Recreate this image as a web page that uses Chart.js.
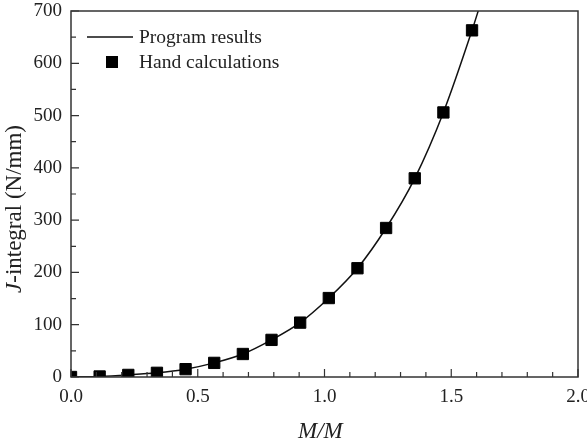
<!DOCTYPE html>
<html>
<head>
<meta charset="utf-8">
<script src="https://cdn.jsdelivr.net/npm/chart.js@4"></script>
<style>
    html, body { margin: 0; padding: 0; background: #fff; }
    #wrap { width: 587px; height: 438px; }
</style>
</head>
<body>
<div id="wrap"><canvas id="jChart" width="587" height="438"></canvas></div>
<script>
// Dữ liệu
const handX = [0, 0.113, 0.226, 0.339, 0.452, 0.565, 0.678, 0.791, 0.904, 1.017, 1.13, 1.243, 1.356, 1.469, 1.582];
const handJ = [0, 1, 4, 8, 15, 27, 44, 71, 104, 151, 208, 285, 380, 506, 663];
const progX = [0, 0.113, 0.226, 0.339, 0.452, 0.565, 0.678, 0.791, 0.904, 1.017, 1.13, 1.243, 1.356, 1.469, 1.582, 1.614];
const progJ = [0, 1, 4, 8, 15, 27, 44, 71, 104, 151, 208, 285, 380, 506, 663, 712];
const xTicks = [0, 0.5, 1.0, 1.5, 2.0];
const yTicks = [0, 100, 200, 300, 400, 500, 600, 700];

const serif = "'Liberation Serif', 'DejaVu Serif', serif";
const axisColor = '#333';

// ticks hướng vào trong + khung + tiêu đề trục + chú thích
const framePlugin = {
    id: 'frame',
    afterDraw(chart) {
        const ctx = chart.ctx;
        const a = chart.chartArea;
        const xs = chart.scales.x, ys = chart.scales.y;
        ctx.save();
        ctx.strokeStyle = axisColor;
        ctx.lineWidth = 1.5;
        ctx.strokeRect(a.left, a.top, a.right - a.left, a.bottom - a.top);
        ctx.lineWidth = 1.2;
        ctx.beginPath();
        xs.ticks.forEach(t => {
            const px = xs.getPixelForValue(t.value);
            const major = Math.abs(t.value * 2 - Math.round(t.value * 2)) < 1e-6;
            const len = major ? 8 : 5;
            ctx.moveTo(px, a.bottom);
            ctx.lineTo(px, a.bottom - len);
        });
        ys.ticks.forEach(t => {
            const py = ys.getPixelForValue(t.value);
            const major = t.value % 100 === 0;
            const len = major ? 8 : 5;
            ctx.moveTo(a.left, py);
            ctx.lineTo(a.left + len, py);
        });
        ctx.stroke();

        // tiêu đề trục y
        ctx.fillStyle = '#222';
        ctx.translate(21, 209);
        ctx.rotate(-Math.PI / 2);
        ctx.textBaseline = 'alphabetic';
        ctx.font = 'italic 23px ' + serif;
        const jw = ctx.measureText('J').width;
        ctx.font = '23px ' + serif;
        const rest = '-integral (N/mm)';
        const rw = ctx.measureText(rest).width;
        const start = -(jw + rw) / 2;
        ctx.font = 'italic 23px ' + serif;
        ctx.fillText('J', start, 0);
        ctx.font = '23px ' + serif;
        ctx.fillText(rest, start + jw, 0);
        ctx.setTransform(1, 0, 0, 1, 0, 0);

        // tiêu đề trục x (chỉ số dưới bị cắt)
        ctx.font = 'italic 23px ' + serif;
        ctx.fillText('M/M', 298, 438);
        const mw = ctx.measureText('M/M').width;
        ctx.font = 'italic 15px ' + serif;
        ctx.fillText('L', 298 + mw, 448);

        // chú thích
        ctx.strokeStyle = '#111';
        ctx.lineWidth = 1.5;
        ctx.beginPath();
        ctx.moveTo(87, 37);
        ctx.lineTo(133, 37);
        ctx.stroke();
        ctx.fillStyle = '#000';
        ctx.fillRect(106, 56, 12, 12);
        ctx.fillStyle = '#222';
        ctx.font = '19.5px ' + serif;
        ctx.textBaseline = 'middle';
        ctx.fillText('Program results', 139, 38);
        ctx.fillText('Hand calculations', 139, 63);
        ctx.restore();
    }
};

const ctx = document.getElementById('jChart');
new Chart(ctx, {
    type: 'scatter',
    data: {
        datasets: [
            {
                label: 'Program results',
                data: progX.map((x, i) => ({x: x, y: progJ[i]})),
                showLine: true,
                borderColor: '#111',
                borderWidth: 1.5,
                pointRadius: 0,
                cubicInterpolationMode: 'monotone',
                order: 2
            },
            {
                label: 'Hand calculations',
                data: handX.map((x, i) => ({x: x, y: handJ[i]})),
                showLine: false,
                pointStyle: 'rect',
                pointRadius: 8,
                backgroundColor: '#000',
                borderColor: '#000',
                borderWidth: 1,
                order: 1
            }
        ]
    },
    options: {
        responsive: false,
        animation: false,
        layout: {padding: {top: 11, right: 7, left: 0, bottom: 0}},
        plugins: {legend: {display: false}, tooltip: {enabled: false}},
        scales: {
            x: {
                type: 'linear',
                min: 0, max: 2,
                grid: {display: false, drawTicks: false},
                border: {display: false},
                afterBuildTicks: s => {
                    const t = [];
                    for (let i = 0; i <= 20; i++) t.push({value: i / 10});
                    s.ticks = t;
                },
                afterFit: s => { s.height = 61; s.paddingLeft = 0; s.paddingRight = 0; },
                ticks: {
                    autoSkip: false,
                    maxRotation: 0,
                    padding: 9,
                    color: '#222',
                    font: {family: serif, size: 19},
                    callback: v => xTicks.some(t => Math.abs(t - v) < 1e-6) ? v.toFixed(1) : ''
                }
            },
            y: {
                type: 'linear',
                min: 0, max: 700,
                grid: {display: false, drawTicks: false},
                border: {display: false},
                afterBuildTicks: s => {
                    const t = [];
                    for (let v = 0; v <= 700; v += 50) t.push({value: v});
                    s.ticks = t;
                },
                afterFit: s => { s.width = 71; s.paddingTop = 0; s.paddingBottom = 0; },
                ticks: {
                    autoSkip: false,
                    padding: 9,
                    color: '#222',
                    font: {family: serif, size: 19},
                    callback: v => yTicks.includes(v) ? String(v) : ''
                }
            }
        }
    },
    plugins: [framePlugin]
});
</script>
</body>
</html>
